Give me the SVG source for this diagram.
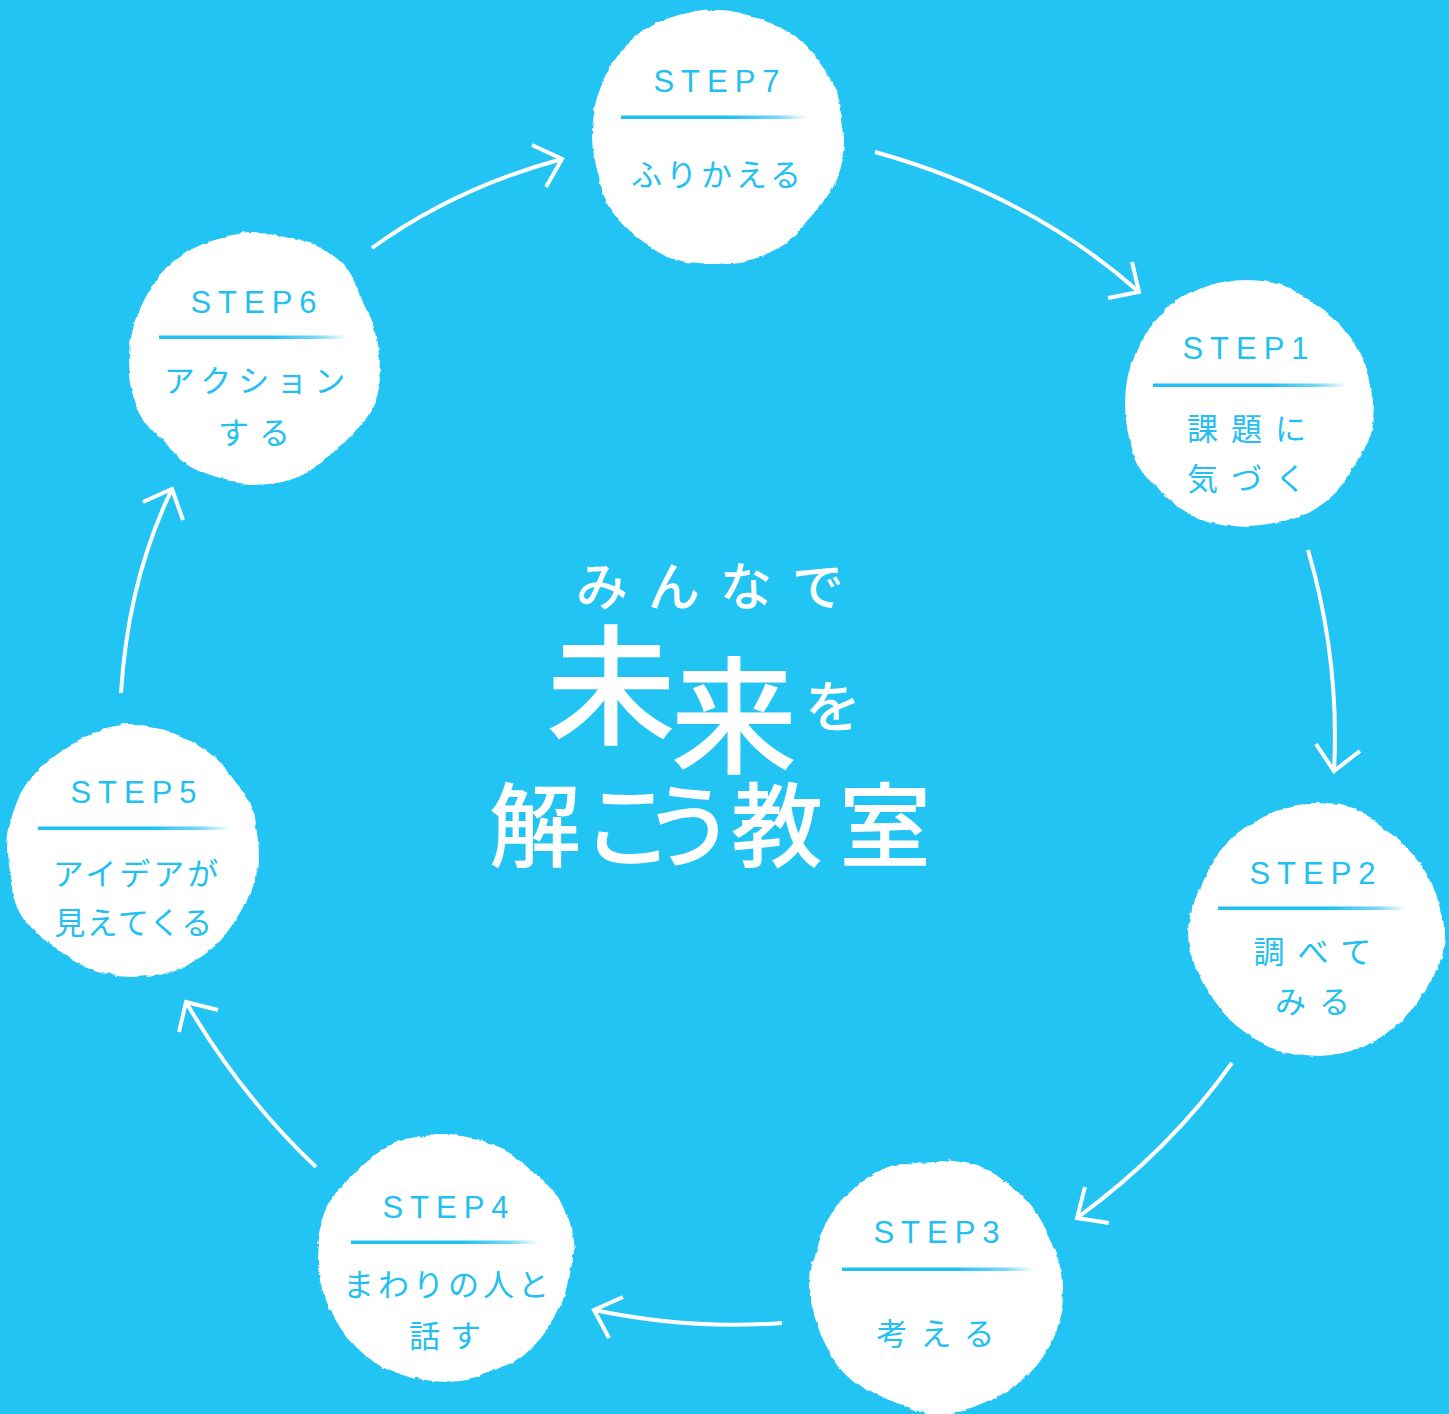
<svg xmlns="http://www.w3.org/2000/svg" width="1449" height="1414" viewBox="0 0 1449 1414">
<defs>
<style>
.bg{fill:#22c4f4}
.blob{fill:#fff;filter:url(#rough)}
.step{font-family:"Liberation Sans",Arial,sans-serif;font-size:31px;fill:#22c0f1;letter-spacing:7px;text-anchor:middle}
.jp{font-family:"Noto Sans CJK JP","Noto Sans",sans-serif;font-size:31px;fill:#22c0f1;text-anchor:middle;font-weight:400}
.div{fill:url(#brush)}
.arrow{fill:none;stroke:#fff;stroke-width:4}
.title{font-family:"Noto Sans CJK JP",sans-serif;fill:#fff;text-anchor:middle;font-weight:500}
</style>
<filter id="rough" x="-15%" y="-15%" width="130%" height="130%">
<feTurbulence type="fractalNoise" baseFrequency="0.011" numOctaves="2" seed="7" result="n"/>
<feDisplacementMap in="SourceGraphic" in2="n" scale="16" xChannelSelector="R" yChannelSelector="G" result="d"/>
<feTurbulence type="fractalNoise" baseFrequency="0.15" numOctaves="1" seed="3" result="f"/>
<feDisplacementMap in="d" in2="f" scale="3" xChannelSelector="R" yChannelSelector="G"/>
</filter>
<linearGradient id="brush" x1="0" y1="0" x2="1" y2="0">
<stop offset="0" stop-color="#22c0f1"/>
<stop offset="0.6" stop-color="#22c0f1"/>
<stop offset="0.85" stop-color="#22c0f1" stop-opacity="0.6"/>
<stop offset="1" stop-color="#22c0f1" stop-opacity="0"/>
</linearGradient>
</defs>
<rect class="bg" x="0" y="0" width="1449" height="1414"/>

<g id="connectors">
<path class="arrow" d="M372,248 Q455,188 562,159"/>
<polyline class="arrow" points="532,145 562,159 546,187"/>
<path class="arrow" d="M875,152 Q1030,195 1139,292"/>
<polyline class="arrow" points="1132,262 1139,292 1108,298"/>
<path class="arrow" d="M1308,550 Q1340,660 1334,771"/>
<polyline class="arrow" points="1316,744 1334,771 1360,751"/>
<path class="arrow" d="M1232,1063 Q1170,1150 1077,1218"/>
<polyline class="arrow" points="1085,1187 1077,1218 1109,1223"/>
<path class="arrow" d="M782,1323 Q690,1330 594,1310"/>
<polyline class="arrow" points="623,1297 594,1310 609,1338"/>
<path class="arrow" d="M316,1167 Q240,1095 186,1002"/>
<polyline class="arrow" points="218,1010 186,1002 179,1032"/>
<path class="arrow" d="M121,693 Q128,580 172,489"/>
<polyline class="arrow" points="143,502 172,489 183,520"/>
</g>

<g id="title">
<text class="title" x="720" y="606" font-size="52" letter-spacing="20">みんなで</text>
<text class="title" x="611" y="734" font-size="130">未</text>
<text class="title" x="734" y="764" font-size="127">来</text>
<text class="title" x="833" y="727" font-size="56">を</text>
<text class="title" x="535" y="860" font-size="92">解</text>
<text class="title" x="628" y="860" font-size="92">こ</text>
<text class="title" x="689" y="860" font-size="92">う</text>
<text class="title" x="777" y="860" font-size="92">教</text>
<text class="title" x="885" y="860" font-size="92">室</text>
</g>

<g id="step7">
<circle class="blob" cx="717" cy="137" r="126"/>
<text class="step" x="720" y="92">STEP7</text>
<rect class="div" x="621" y="115.5" width="186" height="3.5"/>
<text class="jp" x="718" y="186" letter-spacing="4">ふりかえる</text>
</g>

<g id="step1">
<circle class="blob" cx="1248" cy="404" r="124"/>
<text class="step" x="1249" y="359">STEP1</text>
<rect class="div" x="1153" y="383.5" width="194" height="3.5"/>
<text class="jp" x="1253" y="440" letter-spacing="13">課題に</text>
<text class="jp" x="1253" y="490" letter-spacing="13">気づく</text>
</g>

<g id="step2">
<circle class="blob" cx="1316" cy="930" r="126"/>
<text class="step" x="1316" y="884">STEP2</text>
<rect class="div" x="1218" y="906.5" width="188" height="3.5"/>
<text class="jp" x="1319" y="963" letter-spacing="13">調べて</text>
<text class="jp" x="1319" y="1013" letter-spacing="13">みる</text>
</g>

<g id="step3">
<circle class="blob" cx="936" cy="1286" r="126"/>
<text class="step" x="940" y="1243">STEP3</text>
<rect class="div" x="842" y="1267.5" width="192" height="3.5"/>
<text class="jp" x="942" y="1345" letter-spacing="13">考える</text>
</g>

<g id="step4">
<circle class="blob" cx="446" cy="1259" r="125"/>
<text class="step" x="449" y="1218">STEP4</text>
<rect class="div" x="351" y="1240.5" width="188" height="3.5"/>
<text class="jp" x="448" y="1296" letter-spacing="4">まわりの人と</text>
<text class="jp" x="450" y="1347" letter-spacing="10">話す</text>
</g>

<g id="step5">
<circle class="blob" cx="132" cy="853" r="126"/>
<text class="step" x="137" y="803">STEP5</text>
<rect class="div" x="38" y="826.5" width="192" height="3.5"/>
<text class="jp" x="137" y="885" letter-spacing="3">アイデアが</text>
<text class="jp" x="134" y="934" letter-spacing="1.5">見えてくる</text>
</g>

<g id="step6">
<circle class="blob" cx="254" cy="357" r="126"/>
<text class="step" x="257" y="313">STEP6</text>
<rect class="div" x="159" y="335.5" width="188" height="3.5"/>
<text class="jp" x="258" y="392" letter-spacing="7">アクション</text>
<text class="jp" x="259" y="444" letter-spacing="10">する</text>
</g>
</svg>
